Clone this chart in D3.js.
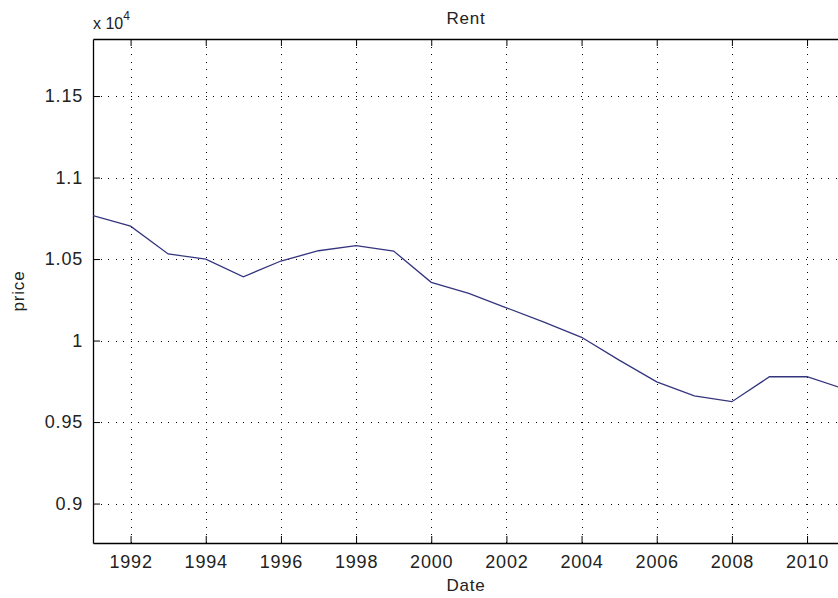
<!DOCTYPE html>
<meta charset="utf-8">
<head>
	<style>
body {margin:0; background:#fff;}
svg text {font-family: "Liberation Sans", Arial, sans-serif; fill:#222;}
.grid line {stroke:#000; stroke-dasharray:1,6.5; shape-rendering:crispEdges;}
	</style>
</head>
<body>
    <div id="chart"></div>

<script type="text/javascript" src="https://d3js.org/d3.v7.min.js"></script>
    <script>

// data (price, x 10^4 shown on axis)
const years = [1991, 1992, 1993, 1994, 1995, 1996, 1997, 1998, 1999, 2000, 2001,
               2002, 2003, 2004, 2005, 2006, 2007, 2008, 2009, 2010, 2011];
const rent = [10766, 10702, 10531, 10500, 10391, 10488, 10551, 10582, 10549, 10357, 10290,
              10201, 10113, 10020, 9880, 9747, 9661, 9625, 9778, 9778, 9702];
const xTicks = [1992, 1994, 1996, 1998, 2000, 2002, 2004, 2006, 2008, 2010];
const yTicks = [9000, 9500, 10000, 10500, 11000, 11500];

const W = 838, H = 598;
const margin = {top: 39, right: -1, bottom: 55, left: 93};
const width = W - margin.left - margin.right;
const height = H - margin.top - margin.bottom;

const svg = d3.select('#chart')
  .append('svg')
  .attr('width', W)
  .attr('height', H);

const g = svg.append('g')
  .attr('transform', 'translate(' + margin.left + ',' + margin.top + ')');

const x = d3.scaleLinear().domain([1991, 2010.85]).range([0, width]);
const y = d3.scaleLinear().domain([8758, 11850]).range([height, 0]);

const fmt = d => String(+(d / 1e4).toFixed(2));

// dotted grid
const grid = g.append('g').attr('class', 'grid');
grid.selectAll('.vx').data(xTicks).enter().append('line')
    .attr('x1', d => Math.round(x(d)) + 0.5).attr('x2', d => Math.round(x(d)) + 0.5)
    .attr('y1', 0).attr('y2', height);
grid.selectAll('.hy').data(yTicks).enter().append('line')
    .attr('y1', d => Math.round(y(d)) + 0.5).attr('y2', d => Math.round(y(d)) + 0.5)
    .attr('x1', 0).attr('x2', width);

// axes, ticks pointing inward
const xAxis = g.append('g')
    .attr('transform', 'translate(0,' + height + ')')
    .call(d3.axisBottom(x).tickValues(xTicks).tickFormat(d3.format('d')).tickSizeInner(-7).tickSizeOuter(0).tickPadding(12));
const xTop = g.append('g')
    .call(d3.axisTop(x).tickValues(xTicks).tickFormat('').tickSizeInner(-7).tickSizeOuter(0));
const yAxis = g.append('g')
    .call(d3.axisLeft(y).tickValues(yTicks).tickFormat(fmt).tickSizeInner(-7).tickSizeOuter(0).tickPadding(10));

[xAxis, xTop, yAxis].forEach(a => {
    a.select('.domain').attr('stroke', '#000').attr('stroke-width', 1.3);
    a.selectAll('.tick line').attr('stroke', '#000');
    a.selectAll('text').style('font-size', '18px').style('letter-spacing', '0.8px').attr('fill', '#222');
});

// line
const clip = g.append('clipPath').attr('id', 'clip')
    .append('rect').attr('width', width).attr('height', height);

const line = d3.line()
    .x((d, i) => x(years[i]))
    .y(d => y(d));

g.append('path')
    .datum(rent)
    .attr('clip-path', 'url(#clip)')
    .attr('fill', 'none')
    .attr('stroke', '#35357f')
    .attr('stroke-width', 1.3)
    .attr('d', line);

// labels
svg.append('text')
    .attr('x', margin.left + width / 2).attr('y', 24)
    .attr('text-anchor', 'middle')
    .style('font-size', '17px')
    .style('letter-spacing', '0.8px')
    .text('Rent');

svg.append('text')
    .attr('x', margin.left + width / 2).attr('y', 591)
    .attr('text-anchor', 'middle')
    .style('font-size', '17px')
    .style('letter-spacing', '0.8px')
    .text('Date');

svg.append('text')
    .attr('transform', 'translate(24,' + (margin.top + height / 2) + ') rotate(-90)')
    .attr('text-anchor', 'middle')
    .style('font-size', '17px')
    .style('letter-spacing', '0.8px')
    .text('price');

const mult = svg.append('text')
    .attr('x', margin.left).attr('y', 29)
    .style('font-size', '16px');
mult.append('tspan').text('x 10');
mult.append('tspan').attr('dy', -9).style('font-size', '12px').text('4');

    </script>
</body>
</html>
